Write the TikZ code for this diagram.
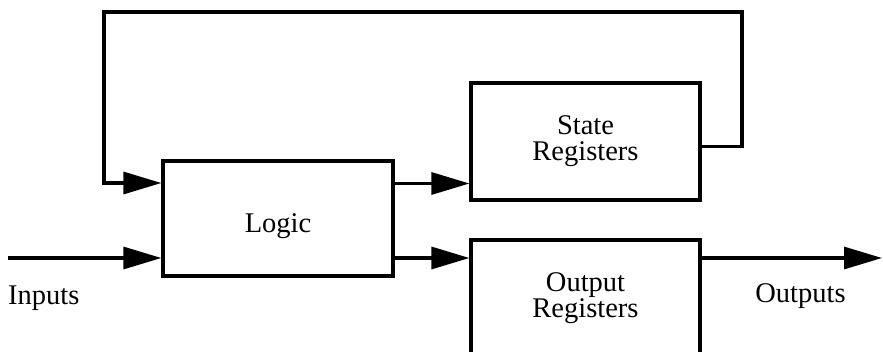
\documentclass[tikz,border=0pt]{standalone}
\usepackage{fontspec}
\setmainfont{Liberation Serif}
\usetikzlibrary{arrows.meta}
\begin{document}
\begin{tikzpicture}[x=1pt,y=-1pt,
  every node/.style={font=\fontsize{28.5}{26}\selectfont},
  blk/.style={draw, line width=3.2pt, inner sep=0pt, align=center},
  arr/.style={line width=3.2pt, -{Triangle[length=38pt,width=22pt]}},
  wire/.style={line width=3.2pt}]
\useasboundingbox (0,0) rectangle (883,352);
\begin{scope}
\clip (0,0) rectangle (883,352);
\node[blk, minimum width=230pt, minimum height=115pt, text height=29pt, text depth=0pt] (L) at (278,218.5) {Logic};
\node[blk, minimum width=229pt, minimum height=117pt] (S) at (585.5,141.5) {State\\Registers};
\node[blk, minimum width=229pt, minimum height=117pt] (O) at (585.5,298.5) {Output\\Registers};
\end{scope}
\coordinate (fbR) at (742,12);
\coordinate (fbL) at (104,12);
\coordinate (in) at (8,258);
\coordinate (out) at (882,258);
\draw[arr] ([yshift=-5pt]S.east) -| (fbR) -- (fbL) |- ([yshift=35.5pt]L.west);
\draw[arr] ([yshift=35pt]L.east) coordinate (a1) -- (a1 -| S.west);
\draw[arr] ([yshift=-39.5pt]L.east) coordinate (a2) -- (a2 -| O.west);
\draw[arr] (in) -- (in -| L.west);
\draw[arr] (O.east |- out) -- (out);
\node[anchor=base west, inner sep=0pt] (inl) at (8,305) {Inputs};
\node[anchor=base, inner sep=0pt] (outl) at (800.5,303) {Outputs};
\end{tikzpicture}
\end{document}
